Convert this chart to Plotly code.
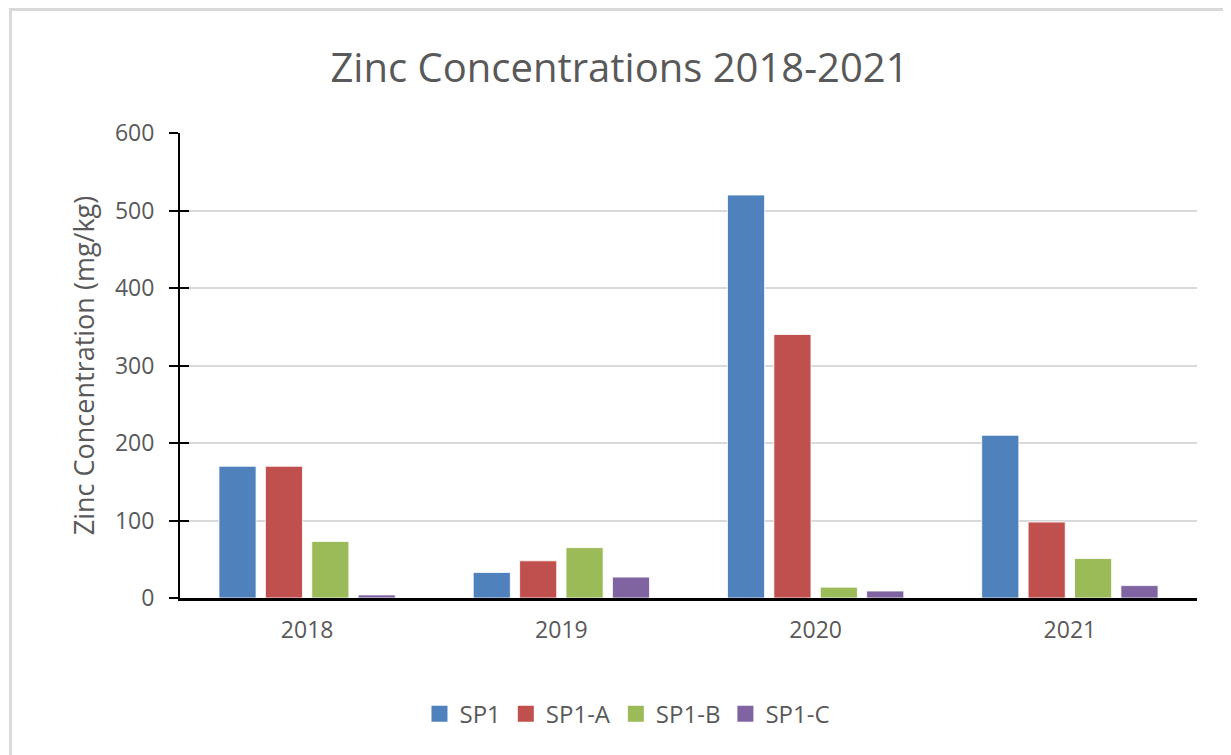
import plotly.graph_objects as go

# Data
years = ['2018', '2019', '2020', '2021']
sp1 = [170, 33, 520, 210]
sp1_a = [170, 48, 340, 98]
sp1_b = [73, 65, 14, 51]
sp1_c = [4, 27, 9, 16]

series = {'SP1': sp1, 'SP1-A': sp1_a, 'SP1-B': sp1_b, 'SP1-C': sp1_c}
colors = ['#4f81bd', '#c0504d', '#9bbb59', '#8064a2']

font_family = 'Open Sans'
text_grey = '#595959'

fig = go.Figure()

for name, values, color in zip(series.keys(), series.values(), colors):
    fig.add_trace(go.Bar(
        x=years,
        y=values,
        name=name,
        showlegend=False,
        marker=dict(color=color, line=dict(color='rgba(255,255,255,0.8)', width=1)),
    ))

# legend entries with bigger square swatches, like the Excel legend
for name, color in zip(series.keys(), colors):
    fig.add_trace(go.Scatter(
        x=[None], y=[None],
        mode='markers',
        name=name,
        marker=dict(symbol='square', size=17, color=color),
        hoverinfo='skip',
    ))

# empty trace so the overlay axis (inside half of the crossing ticks) is drawn
fig.add_trace(go.Scatter(x=[], y=[], yaxis='y2', showlegend=False, hoverinfo='skip'))

# page has an 8px body margin, so the figure is a bit smaller than the window
fig.update_layout(
    width=1223,
    height=747,
    barmode='group',
    bargap=0.27,
    bargroupgap=0.2,
    plot_bgcolor='white',
    paper_bgcolor='white',
    margin=dict(l=172, r=34, t=125, b=157, autoexpand=False),
    font=dict(family=font_family, color=text_grey),
    title=dict(
        text='Zinc Concentrations 2018-2021',
        x=0.5,
        xref='container',
        xanchor='center',
        y=0.92,
        yanchor='middle',
        font=dict(size=40, color=text_grey, family=font_family),
    ),
    xaxis=dict(
        automargin=False,
        showgrid=False,
        showline=True,
        linecolor='black',
        linewidth=2.5,
        ticks='',
        ticklabelstandoff=10,
        tickfont=dict(size=23, color=text_grey),
    ),
    yaxis=dict(
        automargin=False,
        range=[0, 600],
        dtick=100,
        showgrid=True,
        gridcolor='#d9d9d9',
        gridwidth=2,
        zeroline=False,
        showline=True,
        linecolor='black',
        linewidth=2,
        ticks='outside',
        ticklen=9,
        tickwidth=2,
        tickcolor='black',
        ticklabelstandoff=10,
        tickfont=dict(size=23, color=text_grey),
        title=dict(
            text='Zinc Concentration (mg/kg)',
            font=dict(size=27, color=text_grey),
            standoff=12,
        ),
    ),
    yaxis2=dict(
        automargin=False,
        overlaying='y',
        matches='y',
        range=[0, 600],
        dtick=100,
        side='left',
        showgrid=False,
        showline=False,
        zeroline=False,
        ticks='inside',
        ticklen=9,
        tickwidth=2,
        tickcolor='black',
        showticklabels=False,
    ),
    legend=dict(
        orientation='h',
        x=0.44,
        xanchor='center',
        y=-0.25,
        yanchor='middle',
        font=dict(size=24, color=text_grey),
        itemwidth=30,
        traceorder='normal',
    ),
    shapes=[
        # light grey chart border (only left and top edges are visible)
        dict(type='rect', xref='paper', yref='paper',
             x0=-0.1667, x1=1.2, y0=-0.6, y1=1.2656,
             line=dict(color='#d9d9d9', width=3), layer='below'),
    ],
)

fig.write_html('out.html')
